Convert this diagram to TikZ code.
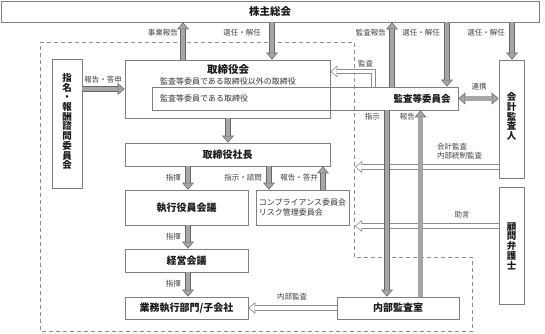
\documentclass[tikz,border=0pt]{standalone}
\usepackage{fontspec}
\setmainfont{Noto Sans CJK JP}
\usetikzlibrary{arrows.meta}
\begin{document}
\begin{tikzpicture}[x=1pt, y=-1pt, every node/.style={inner sep=0pt, text=black!90},
  box/.style={draw=black!50, line width=0.7pt},
  ttl/.style={font=\fontsize{10}{12}\selectfont\bfseries},
  tate/.style={align=center, font=\fontsize{9.5}{9.7}\selectfont\bfseries},
  lbl/.style={font=\fontsize{7.5}{9}\selectfont, text=black!75},
  sub/.style={font=\fontsize{8}{10}\selectfont, text=black!80},
  fat/.style={line width=5.6pt, draw=black!60,
    -{Triangle[length=7pt, width=12pt, line width=0pt]},
    postaction={draw=black!35, line width=4.2pt, shorten >=1.08pt,
      -{Triangle[length=5.2pt, width=9pt, line width=0pt]}}},
  fatboth/.style={line width=5.6pt, draw=black!60,
    {Triangle[length=7pt, width=12pt, line width=0pt]}-{Triangle[length=7pt, width=12pt, line width=0pt]},
    postaction={draw=black!35, line width=4.2pt, shorten <=1.08pt, shorten >=1.08pt,
      {Triangle[length=5.2pt, width=9pt, line width=0pt]}-{Triangle[length=5.2pt, width=9pt, line width=0pt]}}},
  hollow/.style={line width=5.4pt, draw=black!45,
    -{Triangle[length=7pt, width=12pt, line width=0pt]},
    postaction={draw=white, line width=3.9pt, shorten >=1.15pt,
      -{Triangle[length=5.1pt, width=8.7pt, line width=0pt]}}}]
  \useasboundingbox (0,0) rectangle (545,333);
  % company side
  \draw[black!45, line width=0.7pt, dash pattern=on 4pt off 3pt]
    (40,42) -- (354,42) -- (354,257) -- (472,257) -- (472,331.5) -- (40,331.5) -- cycle;

  % boxes
  \node[box, ttl, font=\fontsize{10.5}{12}\selectfont\bfseries, minimum width=538pt, minimum height=21pt] (soukai) at (270,11.5) {株主総会};
  \node[box, minimum width=205pt, minimum height=58pt] (torishimari) at (227.5,89) {};
  \node[box, minimum width=306pt, minimum height=23pt] (kansa) at (305,98.5) {};
  \node[ttl, font=\fontsize{10.5}{12}\selectfont\bfseries] (torishimaritxt) at (228,70) {取締役会};
  \node[sub] (igai) at (228,81) {監査等委員である取締役以外の取締役};
  \node[sub, anchor=west] (iin) at (160,98.5) {監査等委員である取締役};
  \node[ttl, font=\fontsize{9.5}{12}\selectfont\bfseries] (kansatxt) at (422,98.5) {監査等委員会};
  \node[box, minimum width=30pt, minimum height=129pt] (shimei) at (67,124) {};
  \node[tate] (shimeitxt) at (67,121.5) {指\\名\\・\\報\\酬\\諮\\問\\委\\員\\会};
  \node[box, ttl, minimum width=205pt, minimum height=23pt] (shachou) at (227.5,154.5) {取締役社長};
  \node[box, ttl, minimum width=123pt, minimum height=35pt] (shikkou) at (186.5,207.5) {執行役員会議};
  \node[box, sub, align=left, minimum width=93pt, minimum height=35pt] (comp) at (302.5,207.5) {コンプライアンス委員会\\リスク管理委員会};
  \node[box, ttl, minimum width=123pt, minimum height=23pt] (keiei) at (186.5,260.5) {経営会議};
  \node[box, ttl, minimum width=123pt, minimum height=22pt] (gyoumu) at (186.5,308) {業務執行部門/子会社};
  \node[box, ttl, minimum width=122pt, minimum height=22pt] (naibu) at (398,308) {内部監査室};
  \node[box, minimum width=25pt, minimum height=118pt] (kaikei) at (511.5,119) {};
  \node[tate] (kaikeitxt) at (511.5,116.5) {会\\計\\監\\査\\人};
  \node[box, tate, minimum width=25pt, minimum height=117pt] (komon) at (511.5,246) {顧\\問\\弁\\護\\士};

  % hollow arrows
  \coordinate (kaikeiend) at (355,167);
  \coordinate (komonend) at (355,226);
  \draw[hollow] (kansa.north -| 373.5,0) |- (torishimari.east |- 0,71.5);
  \draw[hollow] (kaikei.west |- kaikeiend) -- (kaikeiend);
  \draw[hollow] (komon.west |- komonend) -- (komonend);
  \draw[hollow] (naibu.west) -- (gyoumu.east);

  % filled arrows
  \draw[fat] (torishimari.north -| 183,0) -- (soukai.south -| 183,0);
  \draw[fat] (soukai.south -| 272,0) -- (torishimari.north -| 272,0);
  \draw[fat] (kansa.north -| 392,0) -- (soukai.south -| 392,0);
  \draw[fat] (soukai.south -| 447,0) -- (kansa.north -| 447,0);
  \draw[fat] (soukai.south -| 512,0) -- (kaikei.north -| 512,0);
  \draw[fatboth] (kansa.east) -- (kaikei.west |- kansa.east);
  \draw[fat] (shimei.east |- 0,89) -- (torishimari.west |- 0,89);
  \draw[fat] (torishimari.south -| 228,0) -- (shachou.north -| 228,0);
  \draw[fat] (shachou.south -| 188,0) -- (shikkou.north -| 188,0);
  \draw[fat] (shachou.south -| 269,0) -- (comp.north -| 269,0);
  \draw[fat] (comp.north -| 323,0) -- (shachou.south -| 323,0);
  \draw[fat] (shikkou.south -| 188,0) -- (keiei.north -| 188,0);
  \draw[fat] (keiei.south -| 188,0) -- (gyoumu.north -| 188,0);
  \draw[fat] (kansa.south -| 387,0) -- (naibu.north -| 387,0);
  \draw[fat] (naibu.north -| 420.5,0) -- (kansa.south -| 420.5,0);

  % labels
  \node[lbl, anchor=east] (jigyou) at (178,33) {事業報告};
  \node[lbl, anchor=east] (sennin1) at (261,33) {選任・解任};
  \node[lbl, anchor=east] (kansahoukoku) at (386,33) {監査報告};
  \node[lbl, anchor=east] (sennin2) at (440,33) {選任・解任};
  \node[lbl, anchor=east] (sennin3) at (505,33) {選任・解任};
  \node[lbl] (toushin) at (103,80) {報告・答申};
  \node[lbl, anchor=west] (kansalbl) at (358,64) {監査};
  \node[lbl] (renkei) at (479,87) {連携};
  \node[lbl, anchor=east] (shiki1) at (181,178) {指揮};
  \node[lbl, anchor=east] (shiji) at (262,178) {指示・諮問};
  \node[lbl, anchor=east] (touben) at (318,178) {報告・答弁};
  \node[lbl, anchor=east] (shiki2) at (181,237) {指揮};
  \node[lbl, anchor=east] (shiki3) at (181,284) {指揮};
  \node[lbl, anchor=east] (shiji2) at (380,117) {指示};
  \node[lbl, anchor=east] (houkoku) at (415,117) {報告};
  \node[lbl, align=left, anchor=west] (kaikeilbl) at (437,151) {会計監査\\内部統制監査};
  \node[lbl] (jogen) at (462,215) {助言};
  \node[lbl] (naibulbl) at (292,297) {内部監査};
\end{tikzpicture}
\end{document}
